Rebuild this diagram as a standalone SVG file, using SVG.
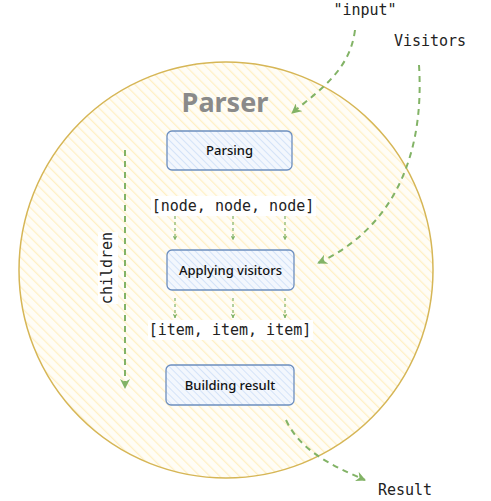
<svg xmlns="http://www.w3.org/2000/svg" width="491" height="501" viewBox="0 0 491 501">
<defs>
<pattern id="hy" patternUnits="userSpaceOnUse" width="7" height="7" patternTransform="rotate(-45)">
<rect width="7" height="7" fill="#fffdf6"/>
<line x1="0" y1="0" x2="0" y2="7" stroke="#fff0c4" stroke-width="2.5"/>
</pattern>
<pattern id="hb" patternUnits="userSpaceOnUse" width="5" height="5" patternTransform="rotate(-45)">
<rect width="5" height="5" fill="#f3f7fd"/>
<line x1="0" y1="0" x2="0" y2="5" stroke="#d4e3f8" stroke-width="2"/>
</pattern>
<marker id="ah" viewBox="0 0 10 10" refX="9" refY="5" markerWidth="5" markerHeight="5" orient="auto">
<path d="M0,0 L10,5 L0,10 L3,5 Z" fill="#82b366"/>
</marker>
<marker id="ahs" viewBox="0 0 10 10" refX="9" refY="5" markerWidth="4" markerHeight="4" orient="auto">
<path d="M0,0 L10,5 L0,10 L3,5 Z" fill="#82b366"/>
</marker>
</defs>
<style>
.box{fill:url(#hb);stroke:#6c8ebf;stroke-width:1.3}
.bt{font-family:"Noto Sans","Open Sans",sans-serif;font-size:13px;font-weight:500;fill:#111;text-anchor:middle}
.mono{font-family:"DejaVu Sans Mono","Liberation Mono",monospace;font-size:15px;fill:#222;text-anchor:middle}
.c{fill:none;stroke:#82b366;stroke-width:2;stroke-dasharray:6 5;marker-end:url(#ah)}
.cs{fill:none;stroke:#82b366;stroke-width:1.2;stroke-dasharray:3 3;marker-end:url(#ahs)}
</style>
<g id="parser">
<ellipse cx="226" cy="270" rx="207" ry="208" fill="url(#hy)" stroke="#d6b656" stroke-width="1.5"/>
<text x="225" y="112" font-family="'Noto Sans','Open Sans',sans-serif" font-size="27" font-weight="bold" fill="#8a8a8a" text-anchor="middle">Parser</text>
</g>
<g id="parsing">
<rect class="box" x="167" y="131" width="125" height="39" rx="5"/>
<text class="bt" x="229.5" y="155">Parsing</text>
</g>
<g id="applying">
<rect class="box" x="167" y="250" width="127" height="40" rx="5"/>
<text class="bt" x="230.5" y="275">Applying visitors</text>
</g>
<g id="building">
<rect class="box" x="166" y="365" width="128" height="40" rx="5"/>
<text class="bt" x="230" y="390">Building result</text>
</g>
<g id="labels">
<rect x="151" y="196" width="165" height="20" fill="#fff"/>
<text class="mono" x="233" y="211">[node, node, node]</text>
<rect x="148" y="320" width="165" height="20" fill="#fff"/>
<text class="mono" x="230" y="335">[item, item, item]</text>
<text class="mono" x="365" y="15">"input"</text>
<text class="mono" x="430" y="46">Visitors</text>
<text class="mono" x="405" y="495">Result</text>
<rect x="98" y="232" width="20" height="72" fill="#fff"/>
<text class="mono" transform="translate(112,268) rotate(-90)">children</text>
</g>
<g id="connectors">
<path class="c" d="M355,30 C350,70 320,90 292,113"/>
<path class="c" d="M419,65 C425,160 390,230 318,263"/>
<path class="c" d="M125,150 L125,388"/>
<path class="c" d="M286,420 C300,450 330,465 365,480"/>
<path class="cs" d="M175,216 L175,240"/>
<path class="cs" d="M233,216 L233,240"/>
<path class="cs" d="M285,216 L285,240"/>
<path class="cs" d="M175,298 L175,318"/>
<path class="cs" d="M233,298 L233,318"/>
<path class="cs" d="M285,298 L285,318"/>
</g>
</svg>
